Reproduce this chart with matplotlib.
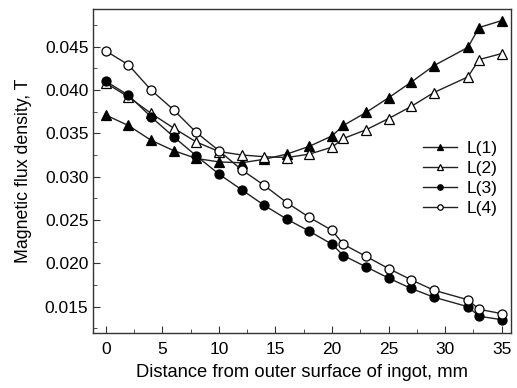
import numpy as np
import matplotlib.pyplot as plt
from matplotlib.ticker import MultipleLocator, FormatStrFormatter

plt.rcParams['font.family'] = ['Liberation Sans', 'DejaVu Sans']

x = [0, 2, 4, 6, 8, 10, 12, 14, 16, 18, 20, 21, 23, 25, 27, 29, 32, 33, 35]

L1 = [0.0371, 0.0359, 0.0342, 0.0330, 0.0321, 0.0317, 0.0316, 0.0320, 0.0326,
      0.0335, 0.0347, 0.0359, 0.0374, 0.0391, 0.0409, 0.0428, 0.0449, 0.0472, 0.0480]
L2 = [0.0408, 0.0392, 0.0373, 0.0356, 0.0340, 0.0329, 0.0325, 0.0323, 0.0322,
      0.0326, 0.0334, 0.0344, 0.0354, 0.0367, 0.0381, 0.0397, 0.0415, 0.0435, 0.0442]
L3 = [0.0410, 0.0394, 0.0369, 0.0346, 0.0324, 0.0303, 0.0285, 0.0267, 0.0251,
      0.0237, 0.0222, 0.0209, 0.0196, 0.0183, 0.0171, 0.0161, 0.0150, 0.0139, 0.0135]
L4 = [0.0445, 0.0429, 0.0400, 0.0377, 0.0351, 0.0330, 0.0308, 0.0290, 0.0270,
      0.0253, 0.0238, 0.0222, 0.0208, 0.0194, 0.0181, 0.0169, 0.0158, 0.0147, 0.0142]

labels = ['L(1)', 'L(2)', 'L(3)', 'L(4)']

fig = plt.figure(figsize=(5.17, 3.88), dpi=100)
ax = fig.add_axes([0.1805, 0.1425, 0.8075, 0.8335])

styles = [('^', 'black'), ('^', 'white'), ('o', 'black'), ('o', 'white')]
for data, lab, (m, fc) in zip([L1, L2, L3, L4], labels, styles):
    ax.plot(x, data, color='#222222', lw=1.0, marker=m, markersize=6.5,
            markerfacecolor=fc, markeredgecolor='black', markeredgewidth=0.9,
            label=lab)

ax.set_xlim(-1.1, 35.8)
ax.set_ylim(0.0120, 0.0493)
ax.xaxis.set_major_locator(MultipleLocator(5))
ax.xaxis.set_minor_locator(MultipleLocator(2.5))
ax.yaxis.set_major_locator(MultipleLocator(0.005))
ax.yaxis.set_minor_locator(MultipleLocator(0.0025))
ax.yaxis.set_major_formatter(FormatStrFormatter('%.3f'))
ax.tick_params(which='both', direction='in', labelsize=12.5, color='#333333')
ax.tick_params(which='major', length=5)
ax.tick_params(which='minor', length=3)
ax.tick_params(axis='x', pad=7)
for s in ax.spines.values():
    s.set_linewidth(1.0)
    s.set_color('#333333')

ax.set_xlabel('Distance from outer surface of ingot, mm', fontsize=13.2, labelpad=5)
ax.set_ylabel('Magnetic flux density, T', fontsize=12.8, labelpad=9)

leg = ax.legend(loc='upper left', bbox_to_anchor=(0.77, 0.62), frameon=False,
                fontsize=12.5, markerscale=0.6, handlelength=1.95,
                handletextpad=0.55, labelspacing=0.28, borderpad=0)

fig.savefig('out.png', dpi=100)
